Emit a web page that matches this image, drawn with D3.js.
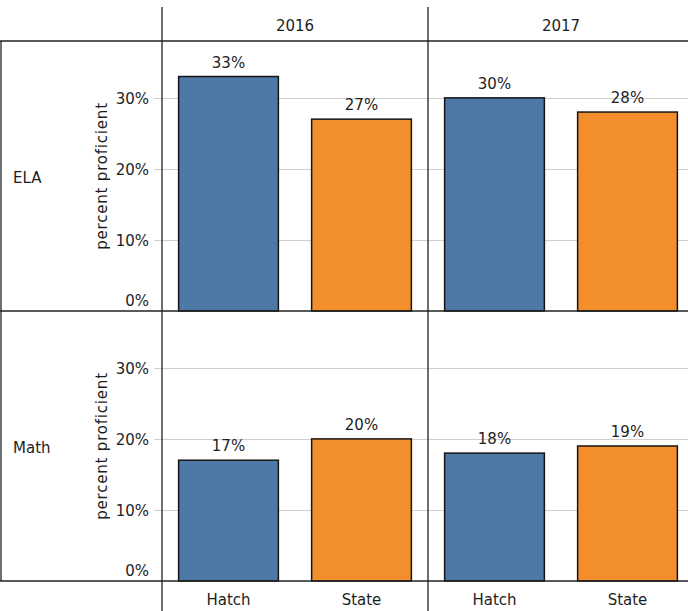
<!DOCTYPE html>
<html><head><meta charset="utf-8">
<script src="https://cdn.jsdelivr.net/npm/d3@7"></script>
<style>body{margin:0;background:#fff;} text{font-family:"DejaVu Sans",sans-serif;}</style>
</head><body><svg id="c" width="688" height="611"></svg>
<script>
const years = ["2016", "2017"];
const subjects = ["ELA", "Math"];
const groups = ["Hatch", "State"];
const values = {
  ELA:  {"2016": [33, 27], "2017": [30, 28]},
  Math: {"2016": [17, 20], "2017": [18, 19]}
};
const yTicks = [0, 10, 20, 30];
const colors = ["#4e79a7", "#f28e2b"];

const svg = d3.select("#c");
const W = 688, H = 611;
const colX = [162, 428, 694];
const rowY = [41, 311, 581];
const headerTop = 7;

const x = d3.scaleBand().domain(groups).range([0, 266]).paddingInner(0.25).paddingOuter(0.125);
const yScales = subjects.map((s, i) => d3.scaleLinear().domain([0, 38]).range([rowY[i + 1], rowY[i]]));

const fs = 15;
const tc = "#1e1e1e";
subjects.forEach((s, i) => {
  const y = yScales[i];
  svg.append("g").selectAll("line").data(yTicks.filter(t => t > 0)).join("line")
    .attr("x1", 154).attr("x2", W).attr("y1", d => Math.round(y(d)) + 0.5).attr("y2", d => Math.round(y(d)) + 0.5)
    .attr("stroke", "#cfcfcf").attr("stroke-width", 1);
  svg.append("g").selectAll("text").data(yTicks).join("text")
    .attr("x", 149).attr("y", d => d === 0 ? y(d) - 5 : y(d) + 6)
    .attr("text-anchor", "end").attr("font-size", fs).attr("fill", tc).text(d => d + "%");
  const cy = (rowY[i] + rowY[i + 1]) / 2;
  svg.append("text").attr("transform", `translate(107,${cy}) rotate(-90)`)
    .attr("text-anchor", "middle").attr("font-size", fs).attr("letter-spacing", 0.8).attr("fill", tc).text("percent proficient");
  svg.append("text").attr("x", 13).attr("y", cy + 7).attr("font-size", fs).attr("fill", tc).text(s);

  years.forEach((yr, j) => {
    const g = svg.append("g").attr("transform", `translate(${colX[j]},0)`);
    const vals = values[s][yr];
    g.selectAll("rect").data(groups).join("rect")
      .attr("x", d => x(d)).attr("width", x.bandwidth())
      .attr("y", (d, k) => y(vals[k])).attr("height", (d, k) => y(0) - y(vals[k]))
      .attr("fill", (d, k) => colors[k]).attr("stroke", "#151515").attr("stroke-width", 1.5);
    g.selectAll("text.v").data(groups).join("text").attr("class", "v")
      .attr("x", d => x(d) + x.bandwidth() / 2).attr("y", (d, k) => y(vals[k]) - 9)
      .attr("text-anchor", "middle").attr("font-size", fs).attr("fill", tc)
      .text((d, k) => vals[k] + "%");
  });
});

years.forEach((yr, j) => {
  svg.append("text").attr("x", colX[j] + 133).attr("y", 31).attr("text-anchor", "middle")
    .attr("font-size", fs).attr("fill", tc).text(yr);
  const g = svg.append("g").attr("transform", `translate(${colX[j]},0)`);
  g.selectAll("text").data(groups).join("text")
    .attr("x", d => x(d) + x.bandwidth() / 2).attr("y", 605).attr("text-anchor", "middle")
    .attr("font-size", fs).attr("fill", tc).text(d => d);
});

const line = (x1, y1, x2, y2, w) => svg.append("line").attr("x1", x1).attr("y1", y1).attr("x2", x2).attr("y2", y2)
  .attr("stroke", "#222").attr("stroke-width", w);
rowY.forEach(yy => line(0, yy, W, yy, 1.5));
line(1, rowY[0], 1, rowY[2], 1.3);
line(colX[0], headerTop, colX[0], H, 1.3);
line(colX[1], headerTop, colX[1], H, 1.3);
</script></body></html>
